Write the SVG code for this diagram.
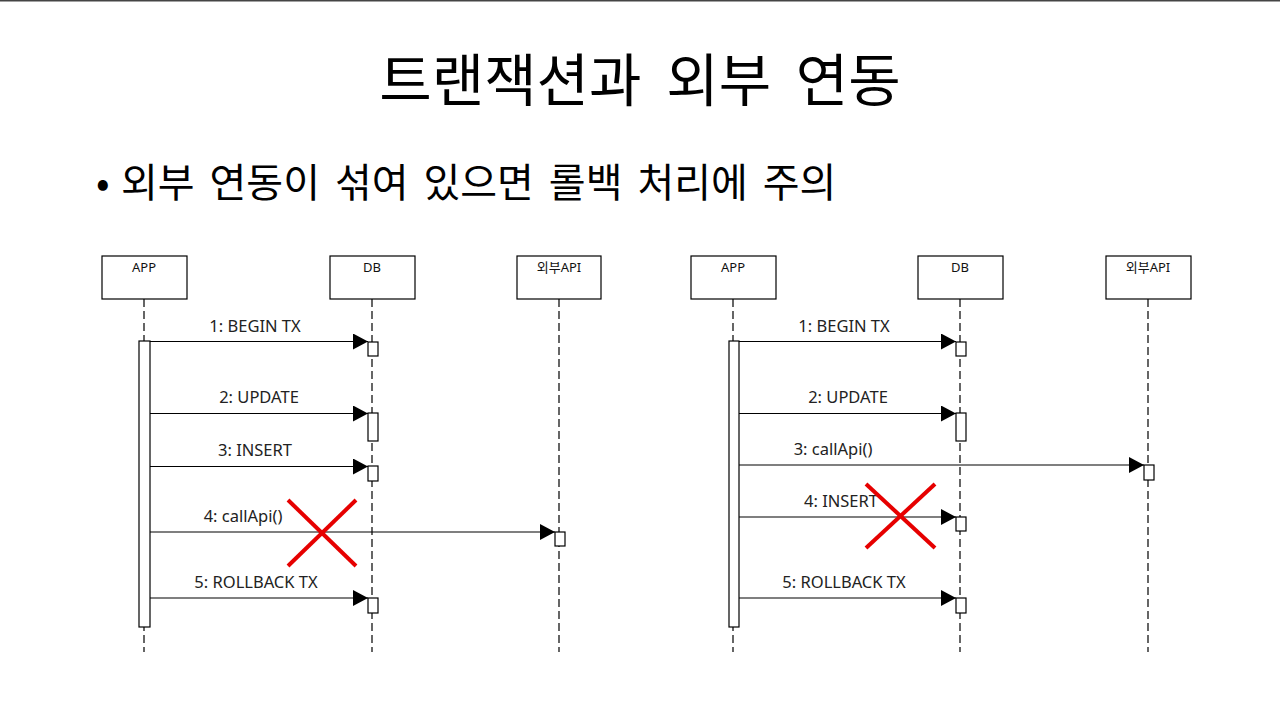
<svg xmlns="http://www.w3.org/2000/svg" width="1280" height="720" viewBox="0 0 1280 720">
<defs>
<marker id="arr" viewBox="0 0 15 16" refX="15" refY="8" markerWidth="15" markerHeight="16" markerUnits="userSpaceOnUse" orient="auto">
<path d="M0,0 L15,8 L0,16 Z" fill="#000"/>
</marker>
<style>
.title{font-family:"Noto Sans CJK KR","Noto Sans",sans-serif;font-size:57px;fill:#000;text-anchor:middle;word-spacing:12px}
.bullet{font-family:"Noto Sans CJK KR","Noto Sans",sans-serif;font-size:40px;fill:#000;word-spacing:6px}
.box{fill:#fff;stroke:#000;stroke-width:1.2}
.bl{font-family:"Noto Sans","Noto Sans CJK KR",sans-serif;font-size:13px;fill:#111;text-anchor:middle}
.life{stroke:#000;stroke-width:1.2;stroke-dasharray:8,4;fill:none}
.act{fill:#fff;stroke:#000;stroke-width:1.2}
.msg{stroke:#000;stroke-width:1.2;fill:none;marker-end:url(#arr)}
.ml{font-family:"Noto Sans","Noto Sans CJK KR",sans-serif;font-size:16.5px;fill:#222;text-anchor:middle}
.x{stroke:#e60000;stroke-width:4;fill:none}
</style>
</defs>
<rect x="0" y="0" width="1280" height="720" fill="#fff"/>
<line x1="0" y1="0.75" x2="1280" y2="0.75" stroke="#444" stroke-width="1.5"/>
<text class="title" x="640" y="101">트랜잭션과 외부 연동</text>
<text class="bullet" x="96" y="197">•</text>
<text class="bullet" x="121" y="197">외부 연동이 섞여 있으면 롤백 처리에 주의</text>

<!-- Left diagram -->
<g id="L-APP"><rect class="box" x="102" y="256" width="85" height="43"/><text class="bl" x="144" y="272">APP</text></g>
<g id="L-DB"><rect class="box" x="330" y="256" width="85" height="43"/><text class="bl" x="372" y="272">DB</text></g>
<g id="L-API"><rect class="box" x="517" y="256" width="84" height="43"/><text class="bl" x="559" y="272">외부API</text></g>
<g id="L-lifelines">
<line class="life" x1="144" y1="299" x2="144" y2="652"/>
<line class="life" x1="372" y1="299" x2="372" y2="652"/>
<line class="life" x1="559" y1="299" x2="559" y2="652"/>
</g>
<g id="L-activations">
<rect class="act" x="139" y="341" width="11" height="286"/>
<rect class="act" x="368" y="342" width="10" height="14"/>
<rect class="act" x="368" y="413" width="10" height="28"/>
<rect class="act" x="368" y="466" width="10" height="15"/>
<rect class="act" x="555" y="532" width="10" height="14"/>
<rect class="act" x="368" y="598" width="10" height="15"/>
</g>
<g id="L-connectors">
<line class="msg" x1="150" y1="341.5" x2="368" y2="341.5"/>
<text class="ml" x="255" y="332">1: BEGIN TX</text>
<line class="msg" x1="150" y1="413.5" x2="368" y2="413.5"/>
<text class="ml" x="259" y="403">2: UPDATE</text>
<line class="msg" x1="150" y1="466.5" x2="368" y2="466.5"/>
<text class="ml" x="255" y="456">3: INSERT</text>
<line class="msg" x1="150" y1="532" x2="555" y2="532"/>
<text class="ml" x="243" y="522">4: callApi()</text>
<line class="msg" x1="150" y1="598" x2="368" y2="598"/>
<text class="ml" x="256" y="588">5: ROLLBACK TX</text>
</g>
<g id="L-cross">
<line class="x" x1="288" y1="500" x2="356" y2="566"/>
<line class="x" x1="356" y1="500" x2="288" y2="566"/>
</g>

<!-- Right diagram -->
<g id="R-APP"><rect class="box" x="691" y="256" width="85" height="43"/><text class="bl" x="733" y="272">APP</text></g>
<g id="R-DB"><rect class="box" x="918" y="256" width="85" height="43"/><text class="bl" x="960" y="272">DB</text></g>
<g id="R-API"><rect class="box" x="1106" y="256" width="85" height="43"/><text class="bl" x="1148" y="272">외부API</text></g>
<g id="R-lifelines">
<line class="life" x1="733" y1="299" x2="733" y2="652"/>
<line class="life" x1="960" y1="299" x2="960" y2="652"/>
<line class="life" x1="1148" y1="299" x2="1148" y2="652"/>
</g>
<g id="R-activations">
<rect class="act" x="729" y="341" width="10" height="286"/>
<rect class="act" x="956" y="342" width="10" height="14"/>
<rect class="act" x="956" y="413" width="10" height="28"/>
<rect class="act" x="1144" y="465" width="10" height="15"/>
<rect class="act" x="956" y="517" width="10" height="14"/>
<rect class="act" x="956" y="598" width="10" height="15"/>
</g>
<g id="R-connectors">
<line class="msg" x1="739" y1="341.5" x2="956" y2="341.5"/>
<text class="ml" x="844" y="332">1: BEGIN TX</text>
<line class="msg" x1="739" y1="413.5" x2="956" y2="413.5"/>
<text class="ml" x="848" y="403">2: UPDATE</text>
<line class="msg" x1="739" y1="465" x2="1144" y2="465"/>
<text class="ml" x="833" y="455">3: callApi()</text>
<line class="msg" x1="739" y1="517" x2="956" y2="517"/>
<text class="ml" x="841" y="507">4: INSERT</text>
<line class="msg" x1="739" y1="598" x2="956" y2="598"/>
<text class="ml" x="844" y="588">5: ROLLBACK TX</text>
</g>
<g id="R-cross">
<line class="x" x1="866" y1="484" x2="935" y2="548"/>
<line class="x" x1="935" y1="484" x2="866" y2="548"/>
</g>
</svg>
